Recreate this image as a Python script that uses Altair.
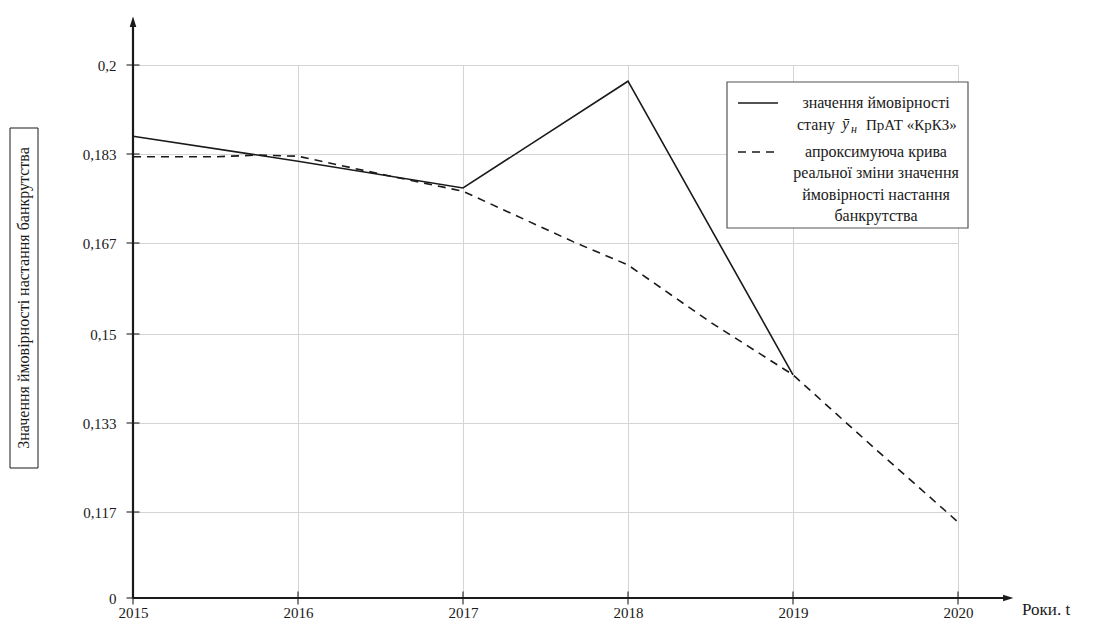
import altair as alt
import pandas as pd

# ---- data ----
years = [2015, 2016, 2017, 2018, 2019]
prob_values = [0.1864, 0.1817, 0.1769, 0.1969, 0.1422]

approx_t = [2015.0, 2015.5, 2015.75, 2016.0, 2016.5, 2017.0, 2017.5, 2017.67,
            2018.0, 2018.5, 2019.0, 2019.5, 2020.0]
approx_values = [0.1825, 0.1825, 0.1828, 0.1826, 0.1794, 0.1763, 0.1695, 0.1672,
                 0.1629, 0.1522, 0.1422, 0.1283, 0.1034]

tick_years = [2015, 2016, 2017, 2018, 2019, 2020]
y_ticks = [0, 0.117, 0.133, 0.15, 0.167, 0.183, 0.2]

y_title = "Значення ймовірності настання банкрутства"
x_title = "Роки. t"
legend_solid = ["значення ймовірності", "стану", "ȳ", "н", "ПрАТ «КрКЗ»"]
legend_dash = ["апроксимуюча крива", "реальної зміни значення",
               "ймовірності настання", "банкрутства"]

W, H = 825, 533
FONT = "Liberation Serif, DejaVu Serif, serif"
INK = "#1a1a1a"

solid_df = pd.DataFrame({"t": years, "v": prob_values})
dash_df = pd.DataFrame({"t": approx_t, "v": approx_values})
ticks_x_df = pd.DataFrame({"t": tick_years})
ticks_y_df = pd.DataFrame({"v": y_ticks})
one = pd.DataFrame({"a": [0]})

xscale = alt.Scale(domain=[2015, 2020], nice=False, zero=False)
yscale = alt.Scale(domain=y_ticks, range=[H, 447, 358, 269, 178, 89, 0])

x_axis = alt.Axis(values=tick_years, format="d", grid=True, gridColor="#d4d4d4",
                  gridWidth=1, domain=False, ticks=False, labelPadding=7, labelFlush=False,
                  labelFontSize=15, labelFont=FONT, labelColor=INK, title=None)
y_axis = alt.Axis(values=y_ticks, format=".3~f", labelExpr="replace(datum.label, '.', ',')",
                  grid=True, gridColor="#d4d4d4", gridWidth=1, domain=False, ticks=False,
                  labelPadding=17, labelFontSize=15, labelFont=FONT, labelColor=INK, title=None)

base_grid = alt.Chart(ticks_y_df).mark_tick(color=INK, thickness=1.5, size=13).encode(
    y=alt.Y("v:Q", scale=yscale, axis=y_axis),
    x=alt.value(0),
)
x_ticks = alt.Chart(ticks_x_df).mark_tick(color=INK, thickness=1.5, size=13).encode(
    x=alt.X("t:Q", scale=xscale, axis=x_axis),
    y=alt.value(H),
)

solid = alt.Chart(solid_df).mark_line(color=INK, strokeWidth=1.6).encode(
    x=alt.X("t:Q", scale=xscale), y=alt.Y("v:Q", scale=yscale))
dashed = alt.Chart(dash_df).mark_line(color=INK, strokeWidth=1.6, strokeDash=[8, 6]).encode(
    x=alt.X("t:Q", scale=xscale), y=alt.Y("v:Q", scale=yscale))

# axes with arrows
y_line = alt.Chart(one).mark_rule(color=INK, strokeWidth=2.2).encode(
    x=alt.value(0), y=alt.value(-40), y2=alt.value(H))
x_line = alt.Chart(one).mark_rule(color=INK, strokeWidth=2.2).encode(
    x=alt.value(0), x2=alt.value(872), y=alt.value(H))
y_arrow = alt.Chart(one).mark_point(shape="M0,-1L0.45,0.4L-0.45,0.4Z", filled=True,
                                    color=INK, opacity=1, size=220).encode(
    x=alt.value(0), y=alt.value(-41))
x_arrow = alt.Chart(one).mark_point(shape="M1,0L-0.4,0.45L-0.4,-0.45Z", filled=True,
                                    color=INK, opacity=1, size=220).encode(
    x=alt.value(873), y=alt.value(H))
x_lab = alt.Chart(one).mark_text(text=x_title, font=FONT, fontSize=17, color=INK,
                                 align="left", baseline="middle").encode(
    x=alt.value(889), y=alt.value(545))

# y title box
y_box = alt.Chart(one).mark_rect(fill="white", stroke=INK, strokeWidth=1).encode(
    x=alt.value(-123), x2=alt.value(-95), y=alt.value(63), y2=alt.value(403))
y_txt = alt.Chart(one).mark_text(text=y_title, font=FONT, fontSize=16, color=INK,
                                 angle=270, align="center", baseline="middle").encode(
    x=alt.value(-109), y=alt.value(233))

# legend
leg_box = alt.Chart(one).mark_rect(fill="white", stroke="#555555", strokeWidth=1.2).encode(
    x=alt.value(594), x2=alt.value(835), y=alt.value(17), y2=alt.value(163))
leg_l1 = alt.Chart(one).mark_rule(color=INK, strokeWidth=1.6).encode(
    x=alt.value(605), x2=alt.value(645), y=alt.value(38))
leg_l2 = alt.Chart(one).mark_rule(color=INK, strokeWidth=1.6, strokeDash=[8, 6]).encode(
    x=alt.value(605), x2=alt.value(647), y=alt.value(87))

def txt(s, x, y, size=16, align="center", style="normal"):
    return alt.Chart(one).mark_text(text=s, font=FONT, fontSize=size, color=INK,
                                    align=align, baseline="middle", fontStyle=style).encode(
        x=alt.value(x), y=alt.value(y))

leg_texts = [
    txt(legend_solid[0], 743, 38),
    txt(legend_solid[1], 664, 60, align="left"),
    txt(legend_solid[2], 709, 59, align="left", style="italic"),
    txt(legend_solid[3], 718, 64, size=12, align="left", style="italic"),
    txt(legend_solid[4], 733, 60, size=15, align="left"),
    txt(legend_dash[0], 743, 87),
    txt(legend_dash[1], 743, 108),
    txt(legend_dash[2], 743, 130),
    txt(legend_dash[3], 743, 151),
]

chart = alt.layer(
    base_grid, x_ticks, dashed, solid, y_line, x_line, y_arrow, x_arrow, x_lab,
    y_box, y_txt, leg_box, leg_l1, leg_l2, *leg_texts
).properties(
    width=W, height=H,
    padding={"left": 125, "top": 57, "right": 130, "bottom": 22},
    autosize=alt.AutoSizeParams(type="none"),
    background="white",
).configure_view(stroke=None)

chart.save("out.html", embed_options={"renderer": "svg", "actions": False})
